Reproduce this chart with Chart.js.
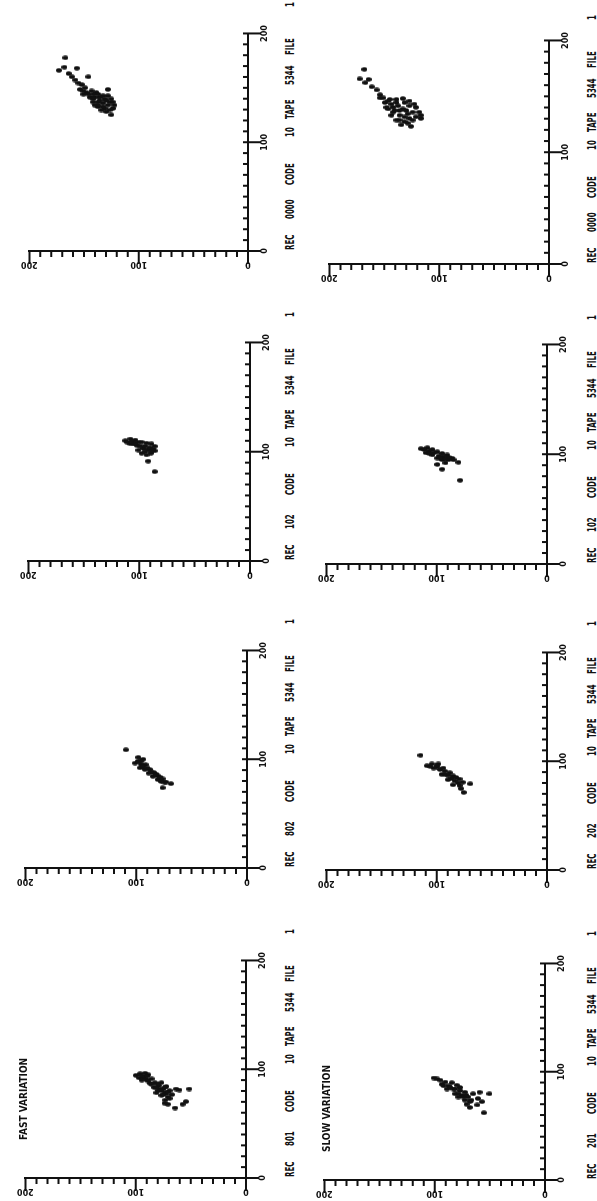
<!DOCTYPE html>
<html>
<head>
<meta charset="utf-8">
<script src="https://cdn.jsdelivr.net/npm/chart.js@4.4.0/dist/chart.umd.min.js"></script>
<style>
  html, body { margin: 0; padding: 0; background: #fff; overflow: hidden; }
  /* the plot sheet is landscape, turned a quarter to fit the portrait page */
  #sheet { position: absolute; left: 0; top: 0; width: 1201px; height: 597px;
           transform-origin: 0 0; transform: translateY(1201px) rotate(-90deg); }
  .plot { position: absolute; }
  .word { position: absolute; font: bold 13px "DejaVu Sans Condensed", "DejaVu Sans", sans-serif;
          color: #111; line-height: 1; white-space: pre; transform-origin: 0 0; transform: scaleX(0.6); }
  .note { position: absolute; font: bold 10px "DejaVu Sans Condensed", "DejaVu Sans", sans-serif;
          color: #111; line-height: 1; white-space: pre; }
</style>
</head>
<body>
<div id="sheet"></div>
<script>
// axis range and tick labels (same on both axes)
const axisMin = 0;
const axisMax = 200;
const axisLabels = [0, 100, 200];
const minorStep = 10;

const titles = [
  'REC 801 CODE 10 TAPE 5344 FILE 1',
  'REC 802 CODE 10 TAPE 5344 FILE 1',
  'REC 102 CODE 10 TAPE 5344 FILE 1',
  'REC 0000 CODE 10 TAPE 5344 FILE 1',
  'REC 201 CODE 10 TAPE 5344 FILE 1',
  'REC 202 CODE 10 TAPE 5344 FILE 1',
  'REC 102 CODE 10 TAPE 5344 FILE 1',
  'REC 0000 CODE 10 TAPE 5344 FILE 1'
];
const notes = ['FAST VARIATION', '', '', '', 'SLOW VARIATION', '', '', ''];

// scatter points [x, y]
const rec801 = [[94.3,99.8],[95.8,96.0],[96.3,91.5],[94.9,88.6],[92.0,96.9],[92.0,93.0],[94.0,94.5],[90.5,90.1],
  [91.1,85.6],[89.1,88.6],[87.0,87.1],[87.6,82.6],[83.2,83.2],[84.7,79.1],[87.6,76.7],[80.3,79.7],[81.8,78.2],
  [81.8,75.2],[84.1,72.3],[78.9,72.3],[77.4,73.8],[80.3,69.3],[74.5,70.8],[76.6,67.2],[76.0,76.7],[78.3,81.2],
  [81.8,63.4],[80.9,60.4],[81.8,51.5],[71.6,73.2],[68.7,73.8],[67.8,70.8],[64.3,64.3],[67.8,57.5],[70.2,54.5],
  [89.9,94.5],[86.2,85.6],[83.2,81.2],[80.3,76.7],[83.2,73.8],[78.9,70.8],[86.2,79.7],[93.4,90.1],[76.5,75.2],
  [73.1,69.3]];
const rec802 = [[108.6,109.3],[101.7,98.1],[99.9,93.7],[96.4,101.0],[95.8,95.8],[95.0,91.6],[92.1,96.6],[90.6,92.2],
  [90.6,87.8],[87.1,88.7],[87.7,84.0],[84.2,84.9],[84.8,80.5],[81.3,80.5],[81.9,76.1],[78.9,74.6],[77.5,68.7],
  [73.7,76.1],[98.5,96.0],[93.5,94.0],[97.9,98.7],[93.5,94.6],[92.0,89.9],[88.3,86.4],[86.2,81.9],[83.3,78.1],
  [79.5,77.5],[78.9,73.1]];
const rec102a = [[110.1,112.5],[111.6,108.0],[110.7,103.6],[107.2,108.0],[105.8,102.2],[108.7,97.8],[107.8,93.4],
  [107.2,89.0],[104.9,86.0],[100.8,86.0],[102.9,96.3],[102.0,91.9],[98.5,97.8],[97.1,93.4],[98.5,89.5],
  [101.4,100.7],[107.2,105.1],[91.3,91.9],[81.7,86.0],[108.7,111.0],[109.5,106.6],[108.7,100.7],[104.9,99.2],
  [104.9,94.8],[103.7,90.4],[102.0,87.5],[100.0,94.8],[100.0,89.0],[107.2,103.6]];
const rec0000a = [[177.6,167.1],[166.0,173.0],[168.9,168.0],[168.0,156.6],[160.1,146.1],[163.1,164.1],[160.1,161.1],
  [157.2,158.1],[154.3,155.1],[152.9,152.1],[150.0,149.1],[147.0,150.6],[148.5,128.2],[145.6,147.6],[144.1,146.1],
  [147.1,143.1],[145.6,138.7],[141.2,144.6],[141.2,140.2],[141.2,135.7],[139.8,131.2],[136.9,141.7],[136.9,137.2],
  [136.0,132.7],[136.9,126.7],[134.0,122.2],[132.5,137.2],[131.0,131.2],[129.6,126.7],[129.6,134.2],[125.2,125.2],
  [144.1,141.7],[144.1,137.2],[142.7,132.7],[142.7,128.2],[139.8,125.2],[136.9,123.7],[134.0,128.2],[132.5,132.7],
  [134.0,137.2],[139.8,141.7],[134.0,140.2],[128.1,129.7],[131.0,123.7],[138.3,135.7],[138.3,129.7],[144.1,150.6],
  [148.5,153.6]];
const rec201 = [[94.2,100.8],[93.3,97.8],[92.1,94.8],[90.4,90.4],[88.3,93.4],[86.9,87.4],[89.8,84.5],[84.0,88.9],
  [84.0,83.0],[87.5,80.0],[79.6,81.5],[82.5,77.1],[78.1,75.6],[81.0,72.6],[76.6,78.6],[76.6,69.7],[79.6,65.2],
  [73.7,66.7],[81.0,59.3],[79.6,50.4],[75.2,60.8],[69.9,71.1],[67.0,68.2],[69.3,61.4],[72.3,57.2],[62.0,55.4],
  [73.7,72.6],[86.9,91.9],[85.4,85.9],[84.0,81.5],[79.6,78.6],[76.6,74.1],[85.4,77.1],[78.1,71.2],[72.3,68.2]];
const rec202 = [[105.4,114.7],[95.8,108.8],[97.5,104.4],[97.5,98.5],[93.7,102.9],[94.6,99.9],[92.3,97.0],[90.8,92.6],
  [87.9,95.5],[87.0,89.7],[86.5,85.2],[83.0,89.7],[82.1,83.8],[83.6,79.3],[78.3,85.2],[77.7,79.3],[79.2,69.6],
  [71.3,75.5],[95.2,105.9],[95.8,100.0],[93.7,94.1],[87.9,92.6],[89.4,88.2],[84.1,86.7],[85.0,82.3],[80.1,80.8],
  [80.6,76.4],[74.8,77.9]];
const rec102b = [[105.0,114.3],[105.9,108.4],[104.2,103.9],[101.3,109.9],[99.3,103.9],[102.2,99.5],[100.7,95.1],
  [99.3,90.6],[96.4,86.2],[96.4,99.5],[95.0,95.1],[95.0,89.1],[92.1,92.1],[92.6,80.3],[90.6,99.5],[86.3,95.1],
  [76.2,78.8],[104.2,111.4],[103.0,106.9],[101.3,102.5],[98.4,98.0],[97.8,93.6],[97.2,89.2],[94.9,84.7],
  [96.4,96.5],[95.5,92.1],[100.7,106.9]];
const rec0000b = [[174.1,168.2],[165.6,172.4],[165.1,164.3],[162.2,167.3],[158.5,161.4],[155.7,156.9],[151.4,153.9],
  [148.6,150.9],[147.2,145.0],[147.2,139.0],[148.0,133.1],[145.8,127.1],[144.4,149.4],[142.9,143.5],[141.5,137.5],
  [138.7,146.5],[137.3,140.5],[138.7,133.1],[140.1,121.2],[135.8,118.2],[133.0,143.5],[133.0,136.0],[134.4,128.6],
  [131.6,121.2],[130.2,116.7],[128.7,139.0],[127.3,131.6],[128.7,124.2],[124.5,134.6],[123.1,125.7],
  [140.1,148.0],[140.1,142.0],[137.3,136.1],[137.3,130.1],[135.8,124.2],[135.8,142.0],[131.6,131.6],[130.2,127.1],
  [128.7,136.1],[125.9,128.6],[145.8,146.5],[144.4,139.0],[144.4,131.6],[141.5,127.1],[143.0,122.7],[133.0,116.7],
  [148.6,153.9]];

const series = [rec801, rec802, rec102a, rec0000a, rec201, rec202, rec102b, rec0000b];

// sheet layout: origin x, plot width, top (200) and bottom (0) pixel of each plot
const layout = [
  { ox: 23, w: 229, top: 21, bottom: 246 },
  { ox: 333, w: 229, top: 21, bottom: 247 },
  { ox: 640, w: 230, top: 24, bottom: 250 },
  { ox: 950, w: 229, top: 25, bottom: 248 },
  { ox: 21, w: 228, top: 320, bottom: 545 },
  { ox: 331, w: 229, top: 322, bottom: 547 },
  { ox: 637, w: 231, top: 322, bottom: 547 },
  { ox: 937, w: 235, top: 325, bottom: 549 }
];
const notePos = [{ x: 61, y: 19 }, null, null, null, { x: 49, y: 322 }, null, null, null];
const wordOffsets = [-1, 30, 64, 112, 130, 164, 194, 242];

const FONT = '"DejaVu Sans Condensed", "DejaVu Sans", sans-serif';
const INK = '#111';
const Y_W = 26, X_H = 32, PAD_T = 6, PAD_R = 8;

// small upright blot like the plotter's dots
const dot = document.createElement('canvas');
dot.width = 5; dot.height = 6;
(function () {
  const c = dot.getContext('2d');
  c.fillStyle = INK;
  c.beginPath();
  c.ellipse(2.5, 3, 2.2, 3, 0, 0, Math.PI * 2);
  c.fill();
})();

// plotter style ticks: x ticks point into the plot, y ticks hang outside
const plotterTicks = {
  id: 'plotterTicks',
  afterDraw(chart) {
    const { ctx, chartArea, scales } = chart;
    ctx.save();
    ctx.strokeStyle = INK;
    ctx.lineWidth = 2;
    ctx.beginPath();
    for (let v = axisMin; v <= axisMax; v += minorStep) {
      const major = axisLabels.includes(v);
      const px = scales.x.getPixelForValue(v);
      const py = scales.y.getPixelForValue(v);
      ctx.moveTo(px, chartArea.bottom - 5);
      ctx.lineTo(px, chartArea.bottom + (major ? 13 : 0));
      ctx.moveTo(chartArea.left, py);
      ctx.lineTo(chartArea.left - (major ? 13 : 6), py);
    }
    ctx.stroke();
    ctx.restore();
  }
};

const sheet = document.getElementById('sheet');

series.forEach((pts, i) => {
  const L = layout[i];
  const cv = document.createElement('canvas');
  const w = Y_W + L.w + PAD_R;
  const h = PAD_T + (L.bottom - L.top) + X_H;
  cv.width = w; cv.height = h;
  cv.className = 'plot';
  cv.style.left = (L.ox - Y_W) + 'px';
  cv.style.top = (L.top - PAD_T) + 'px';
  cv.style.width = w + 'px';
  cv.style.height = h + 'px';
  sheet.appendChild(cv);

  const tickFont = { family: FONT, size: 9, weight: 'bold' };
  new Chart(cv, {
    type: 'scatter',
    data: {
      datasets: [{
        data: pts.map(p => ({ x: p[0], y: p[1] })),
        pointStyle: dot,
        pointRadius: 3,
        backgroundColor: INK,
        borderWidth: 0
      }]
    },
    options: {
      responsive: false,
      animation: false,
      events: [],
      layout: { padding: { top: PAD_T, right: PAD_R, left: 0, bottom: 0 } },
      plugins: { legend: { display: false }, tooltip: { enabled: false } },
      scales: {
        x: {
          type: 'linear', position: 'bottom', min: axisMin, max: axisMax,
          grid: { display: false, drawTicks: false },
          border: { display: true, width: 2, color: INK },
          ticks: { stepSize: 100, padding: 11, maxRotation: 0, color: INK, font: tickFont },
          afterFit(s) { s.height = X_H; }
        },
        y: {
          type: 'linear', position: 'left', min: axisMin, max: axisMax,
          grid: { display: false, drawTicks: false },
          border: { display: true, width: 2, color: INK },
          ticks: { stepSize: 100, padding: 5, minRotation: 90, maxRotation: 90, crossAlign: 'center',
                   color: INK, font: tickFont },
          afterFit(s) { s.width = Y_W; }
        }
      }
    },
    plugins: [plotterTicks]
  });

  // caption under the plot
  const capTop = (i < 4 ? 282.5 : 584.5);
  titles[i].split(' ').forEach((word, k) => {
    const el = document.createElement('div');
    el.className = 'word';
    el.textContent = word;
    el.style.left = (L.ox + 2 + wordOffsets[k]) + 'px';
    el.style.top = capTop + 'px';
    sheet.appendChild(el);
  });

  if (notes[i]) {
    const n = document.createElement('div');
    n.className = 'note';
    n.textContent = notes[i];
    n.style.left = notePos[i].x + 'px';
    n.style.top = notePos[i].y + 'px';
    sheet.appendChild(n);
  }
});
</script>
</body>
</html>
